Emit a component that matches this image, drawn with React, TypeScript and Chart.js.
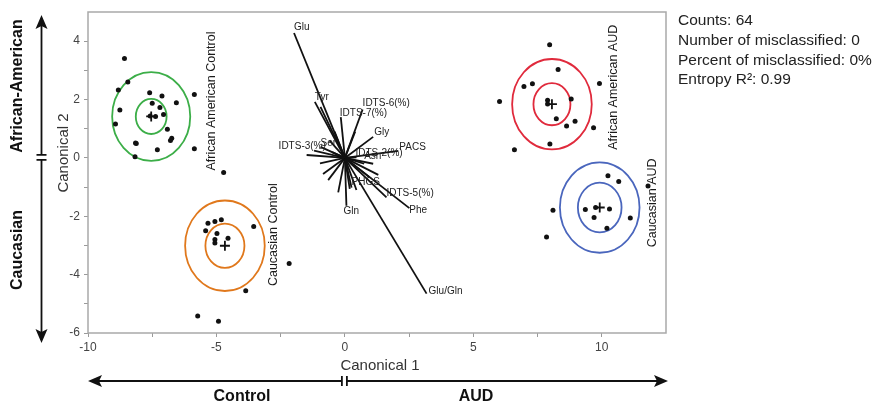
import React, { useEffect, useRef } from "react";
import { Chart, registerables } from "chart.js";
Chart.register(...registerables);

// ---------- axis ticks ----------
const X_MAJOR_TICKS = [-10, -5, 0, 5, 10];
const X_MINOR_TICKS = [-7.5, -2.5, 2.5, 7.5];
const Y_MAJOR_TICKS = [-6, -4, -2, 0, 2, 4];
const Y_MINOR_TICKS = [-5, -3, -1, 1, 3];

// ---------- groups ----------
const GROUP_NAMES = ["African American Control", "Caucasian Control", "African American AUD", "Caucasian AUD"];
const GROUP_CENTER_X = [-7.54, -4.67, 8.06, 9.92];
const GROUP_CENTER_Y = [1.42, -3.01, 1.84, -1.70];
const GROUP_INNER_R = [0.60, 0.76, 0.72, 0.85];
const GROUP_OUTER_R = [1.52, 1.55, 1.55, 1.55];

// ---------- observations ----------
const AA_CONTROL_X = [-8.58, -8.45, -8.82, -7.60, -7.12, -5.86, -7.50, -6.56, -8.76, -7.20, -7.06, -7.58, -7.37, -8.93, -6.91, -8.15, -8.12, -6.74, -6.79, -7.30, -5.86, -8.17];
const AA_CONTROL_Y = [3.41, 2.60, 2.33, 2.23, 2.12, 2.17, 1.87, 1.89, 1.64, 1.73, 1.49, 1.44, 1.42, 1.16, 0.98, 0.51, 0.49, 0.67, 0.60, 0.28, 0.31, 0.04];
const C_CONTROL_X = [-4.72, -5.33, -5.06, -4.81, -3.55, -5.42, -4.98, -5.06, -5.06, -4.55, -2.17, -3.86, -5.73, -4.92];
const C_CONTROL_Y = [-0.50, -2.24, -2.18, -2.12, -2.35, -2.50, -2.59, -2.80, -2.92, -2.75, -3.62, -4.55, -5.42, -5.60];
const AA_AUD_X = [7.97, 8.30, 6.97, 7.30, 9.91, 6.02, 7.89, 7.89, 8.81, 8.23, 8.96, 8.63, 9.68, 7.98, 6.60];
const AA_AUD_Y = [3.88, 3.03, 2.45, 2.54, 2.55, 1.93, 1.98, 1.85, 2.02, 1.34, 1.26, 1.09, 1.03, 0.48, 0.28];
const C_AUD_X = [10.24, 10.66, 11.80, 8.10, 9.36, 9.76, 10.30, 9.70, 11.11, 10.20, 7.85];
const C_AUD_Y = [-0.61, -0.81, -0.96, -1.79, -1.77, -1.70, -1.75, -2.04, -2.06, -2.41, -2.71];

// ---------- biplot vectors ----------
const VECTOR_NAMES = ["Glu", "Tyr", "", "IDTS-6(%)", "IDTS-7(%)", "Gly", "PACS", "IDTS-3(%)", "Ser", "IDTS-2(%)", "Asn", "PHGS", "IDTS-5(%)", "Phe", "Gln", "Glu/Gln",
  "", "", "", "", "", "", "", "", "", "", "", "", "", "", ""];
const VECTOR_X = [-1.98, -1.17, -0.95, 0.69, -0.16, 1.10, 2.08, -1.49, -0.95, 0.45, 0.75, 0.26, 1.62, 2.51, 0.06, 3.18,
  -0.97, -0.85, -0.65, -0.26, 0.19, 0.45, 0.97, 1.30, -1.20, -0.60, -0.40, 0.40, 0.50, 1.10, -0.50];
const VECTOR_Y = [4.28, 1.92, 1.75, 1.66, 1.40, 0.72, 0.24, 0.10, 0.38, 0.02, -0.20, -1.02, -1.35, -1.72, -1.64, -4.65,
  -0.19, -0.55, -0.76, -1.18, -1.06, -1.10, -0.67, -0.58, 0.25, 0.60, 0.90, 0.90, -0.40, -0.20, 0.20];

// ---------- side texts ----------
const STATS_LINES = ["Counts: 64", "Number of misclassified: 0", "Percent of misclassified: 0%", "Entropy R²: 0.99"];

// layout (label offsets in px, label anchors in data coords)
const VECTOR_LABEL_OFFSET: Record<string, [number, number]> = {
  "Glu": [0, -1], "Tyr": [0, 0], "IDTS-6(%)": [0, -1], "IDTS-7(%)": [-1, 1], "Gly": [1, 0], "PACS": [1, 1],
  "IDTS-3(%)": [-28, -4], "Ser": [0, 1], "IDTS-2(%)": [-1, 1], "Asn": [0, -2], "PHGS": [0, 0],
  "IDTS-5(%)": [0, 1], "Phe": [0, 7], "Gln": [-3, 10], "Glu/Gln": [2, 3],
};
const GROUP_LABEL_POS: [number, number][] = [[-5.19, 1.95], [-2.77, -2.63], [10.45, 2.42], [11.97, -1.54]];
const GROUP_COLORS = ["#3cae48", "#e0781c", "#e02a3c", "#4a66bd"];
const FONT = "'Liberation Sans', Arial, Helvetica, sans-serif";

const toPts = (xs: number[], ys: number[]) => xs.map((x, i) => ({ x, y: ys[i] }));

const decorPlugin = {
  id: "decor",
  beforeDatasetsDraw(chart: any) {
    const { ctx, chartArea: ca, scales } = chart;
    const xs = scales.x, ys = scales.y;
    ctx.save();
    ctx.strokeStyle = "#a9a9a9";
    ctx.lineWidth = 1.5;
    ctx.strokeRect(ca.left, ca.top, ca.right - ca.left, ca.bottom - ca.top);
    ctx.beginPath();
    ctx.rect(ca.left, ca.top, ca.right - ca.left, ca.bottom - ca.top);
    ctx.clip();
    GROUP_CENTER_X.forEach((cx, i) => {
      const cy = GROUP_CENTER_Y[i];
      const px = xs.getPixelForValue(cx), py = ys.getPixelForValue(cy);
      [GROUP_INNER_R[i], GROUP_OUTER_R[i]].forEach((r) => {
        const rx = Math.abs(xs.getPixelForValue(cx + r) - px);
        const ry = Math.abs(ys.getPixelForValue(cy + r) - py);
        ctx.beginPath();
        ctx.ellipse(px, py, rx, ry, 0, 0, Math.PI * 2);
        ctx.strokeStyle = GROUP_COLORS[i];
        ctx.lineWidth = 1.8;
        ctx.stroke();
      });
    });
    ctx.restore();
  },
  afterDatasetsDraw(chart: any) {
    const { ctx, scales } = chart;
    const xs = scales.x, ys = scales.y;
    ctx.save();
    // vector labels
    ctx.font = `10px ${FONT}`;
    ctx.fillStyle = "#222";
    ctx.textAlign = "left";
    ctx.textBaseline = "bottom";
    VECTOR_NAMES.forEach((n, i) => {
      if (!n) return;
      const off = VECTOR_LABEL_OFFSET[n] || [0, 0];
      ctx.fillText(n, xs.getPixelForValue(VECTOR_X[i]) + off[0], ys.getPixelForValue(VECTOR_Y[i]) + off[1]);
    });
    // group labels (rotated)
    ctx.font = `12.5px ${FONT}`;
    ctx.fillStyle = "#1a1a1a";
    ctx.textAlign = "center";
    ctx.textBaseline = "middle";
    GROUP_NAMES.forEach((n, i) => {
      const [gx, gy] = GROUP_LABEL_POS[i];
      ctx.save();
      ctx.translate(xs.getPixelForValue(gx), ys.getPixelForValue(gy));
      ctx.rotate(-Math.PI / 2);
      ctx.fillText(n, 0, 0);
      ctx.restore();
    });
    ctx.restore();
  },
  afterDraw(chart: any) {
    const { ctx, chartArea: ca } = chart;
    ctx.save();
    const cxMid = chart.scales.x.getPixelForValue(0);
    const cyMid = chart.scales.y.getPixelForValue(0);
    // axis titles
    ctx.fillStyle = "#333";
    ctx.font = `15px ${FONT}`;
    ctx.textAlign = "center";
    ctx.textBaseline = "middle";
    ctx.fillText("Canonical 1", (ca.left + ca.right) / 2 + 3, 366);
    ctx.save();
    ctx.translate(64, 153);
    ctx.rotate(-Math.PI / 2);
    ctx.fillText("Canonical 2", 0, 0);
    ctx.restore();

    // vertical arrow
    ctx.strokeStyle = "#111";
    ctx.fillStyle = "#111";
    ctx.lineWidth = 1.8;
    const ax = 41.5;
    ctx.beginPath();
    ctx.moveTo(ax, 24); ctx.lineTo(ax, cyMid - 3);
    ctx.moveTo(ax, cyMid + 2); ctx.lineTo(ax, 334);
    ctx.moveTo(ax - 5, cyMid - 3); ctx.lineTo(ax + 5, cyMid - 3);
    ctx.moveTo(ax - 5, cyMid + 2); ctx.lineTo(ax + 5, cyMid + 2);
    ctx.stroke();
    ctx.beginPath();
    ctx.moveTo(ax, 15); ctx.lineTo(ax - 6, 29); ctx.lineTo(ax, 26); ctx.lineTo(ax + 6, 29); ctx.closePath();
    ctx.fill();
    ctx.beginPath();
    ctx.moveTo(ax, 343); ctx.lineTo(ax - 6, 329); ctx.lineTo(ax, 332); ctx.lineTo(ax + 6, 329); ctx.closePath();
    ctx.fill();

    // horizontal arrow
    const ay = 381;
    ctx.beginPath();
    ctx.moveTo(98, ay); ctx.lineTo(cxMid - 3, ay);
    ctx.moveTo(cxMid + 2, ay); ctx.lineTo(658, ay);
    ctx.moveTo(cxMid - 3, ay - 5); ctx.lineTo(cxMid - 3, ay + 5);
    ctx.moveTo(cxMid + 2, ay - 5); ctx.lineTo(cxMid + 2, ay + 5);
    ctx.stroke();
    ctx.beginPath();
    ctx.moveTo(88, ay); ctx.lineTo(102, ay - 6); ctx.lineTo(99, ay); ctx.lineTo(102, ay + 6); ctx.closePath();
    ctx.fill();
    ctx.beginPath();
    ctx.moveTo(668, ay); ctx.lineTo(654, ay - 6); ctx.lineTo(657, ay); ctx.lineTo(654, ay + 6); ctx.closePath();
    ctx.fill();

    // bold labels
    ctx.font = `bold 16px ${FONT}`;
    ctx.fillStyle = "#111";
    ctx.textAlign = "center";
    ctx.textBaseline = "middle";
    ctx.fillText("Control", 242, 397);
    ctx.fillText("AUD", 476, 397);
    ctx.save();
    ctx.translate(18, 86);
    ctx.rotate(-Math.PI / 2);
    ctx.fillText("African-American", 0, 0);
    ctx.restore();
    ctx.save();
    ctx.translate(18, 250);
    ctx.rotate(-Math.PI / 2);
    ctx.fillText("Caucasian", 0, 0);
    ctx.restore();

    // stats
    ctx.font = `15.5px ${FONT}`;
    ctx.fillStyle = "#222";
    ctx.textAlign = "left";
    ctx.textBaseline = "middle";
    STATS_LINES.forEach((t, i) => ctx.fillText(t, 678, 21 + i * 19.7));
    ctx.restore();
  },
};

export default function App() {
  const ref = useRef<HTMLCanvasElement | null>(null);
  useEffect(() => {
    if (!ref.current) return;
    const pointStyle = { pointRadius: 2.5, pointHoverRadius: 2.5, backgroundColor: "#111", borderColor: "#111", borderWidth: 0, showLine: false };
    const vectorSets = VECTOR_X.map((vx, i) => ({
      label: VECTOR_NAMES[i] || "v" + i,
      data: [{ x: 0, y: 0 }, { x: vx, y: VECTOR_Y[i] }],
      showLine: true,
      borderColor: "#111",
      borderWidth: 1.8,
      pointRadius: 0,
      pointHoverRadius: 0,
    }));
    const chart = new Chart(ref.current, {
      type: "scatter",
      data: {
        datasets: [
          ...vectorSets,
          { label: GROUP_NAMES[0], data: toPts(AA_CONTROL_X, AA_CONTROL_Y), ...pointStyle },
          { label: GROUP_NAMES[1], data: toPts(C_CONTROL_X, C_CONTROL_Y), ...pointStyle },
          { label: GROUP_NAMES[2], data: toPts(AA_AUD_X, AA_AUD_Y), ...pointStyle },
          { label: GROUP_NAMES[3], data: toPts(C_AUD_X, C_AUD_Y), ...pointStyle },
          {
            label: "centers",
            data: toPts(GROUP_CENTER_X, GROUP_CENTER_Y),
            pointStyle: "cross",
            pointRadius: 5,
            pointHoverRadius: 5,
            borderColor: "#111",
            borderWidth: 1.8,
            showLine: false,
          },
        ] as any,
      },
      options: {
        animation: false,
        responsive: false,
        devicePixelRatio: 1,
        events: [],
        layout: { padding: { left: 0, top: 12, right: 208, bottom: 0 } },
        plugins: { legend: { display: false }, tooltip: { enabled: false } },
        scales: {
          x: {
            type: "linear",
            min: -10,
            max: 12.5,
            border: { display: false },
            grid: { drawOnChartArea: false, drawTicks: true, tickLength: 4, color: "#9a9a9a", lineWidth: 1 },
            afterBuildTicks: (s: any) => {
              s.ticks = [...X_MAJOR_TICKS, ...X_MINOR_TICKS].sort((a, b) => a - b).map((v) => ({ value: v }));
            },
            afterFit: (s: any) => { s.height = 72; },
            ticks: {
              autoSkip: false,
              maxRotation: 0,
              padding: 3,
              color: "#444",
              font: { family: FONT, size: 12 },
              callback: (v: any) => (X_MAJOR_TICKS.includes(Number(v)) ? String(v) : ""),
            },
          },
          y: {
            type: "linear",
            min: -6,
            max: 5,
            border: { display: false },
            grid: { drawOnChartArea: false, drawTicks: true, tickLength: 4, color: "#9a9a9a", lineWidth: 1 },
            afterBuildTicks: (s: any) => {
              s.ticks = [...Y_MAJOR_TICKS, ...Y_MINOR_TICKS].sort((a, b) => a - b).map((v) => ({ value: v }));
            },
            afterFit: (s: any) => { s.width = 88; },
            ticks: {
              autoSkip: false,
              padding: 4,
              color: "#444",
              font: { family: FONT, size: 12 },
              callback: (v: any) => (Y_MAJOR_TICKS.includes(Number(v)) ? String(v) : ""),
            },
          },
        },
      },
      plugins: [decorPlugin],
    });
    return () => chart.destroy();
  }, []);
  return (
    <div style={{ position: "fixed", left: 0, top: 0, width: 874, height: 405, background: "#fff" }}>
      <canvas ref={ref} width={874} height={405} style={{ width: 874, height: 405, display: "block" }} />
    </div>
  );
}
